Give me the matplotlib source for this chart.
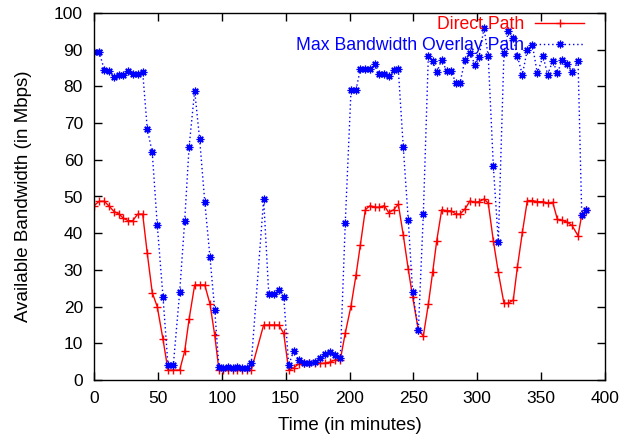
import matplotlib
matplotlib.use("Agg")
import matplotlib.pyplot as plt

# sample times (minutes); sampling is slightly irregular
minutes = [0.0, 4.1, 8.1, 12.0, 15.7, 19.3, 22.9, 26.8, 30.3, 34.2,
           38.1, 41.7, 45.6, 49.5, 54.0, 57.9, 62.1, 67.1, 71.0, 74.4,
           78.8, 82.7, 86.7, 90.8, 94.5, 97.8, 101.0, 104.9, 108.8, 112.2,
           115.9, 119.8, 123.1,
           132.8, 136.8, 140.7, 144.6, 148.5,
           152.4, 156.3, 160.2, 164.2, 168.1, 173.2, 177.1, 181.0, 184.9, 188.8,
           192.8,
           196.7, 201.2, 205.1, 208.5, 212.4, 216.1, 220.0, 223.3, 227.2, 230.7,
           234.6, 238.2, 242.1, 246.0, 249.4,
           253.9, 257.8, 261.7, 265.1, 268.3, 272.2, 276.1, 279.5, 283.4, 286.5,
           290.4, 294.3, 298.2,
           301.4, 305.3, 308.6, 312.6, 316.5, 320.9, 324.3, 328.2, 331.4, 335.3,
           339.2, 343.1, 347.0,
           351.5, 355.1, 359.1, 362.7, 366.6, 370.5, 374.2, 378.9, 381.8, 385.5]

direct = [47.5, 48.7, 48.7, 47.3, 45.9, 45.3, 44.1, 43.4, 43.4, 45.2,
          45.2, 34.5, 23.8, 20.0, 11.1, 2.7, 2.7, 2.7, 7.9, 16.5,
          25.9, 25.9, 25.9, 20.7, 12.2, 2.7, 2.7, 2.7, 2.7, 2.7,
          2.7, 2.7, 2.7,
          15.0, 15.0, 15.0, 15.0, 12.7,
          2.7, 3.3, 4.4, 4.6, 4.6, 4.6, 4.5, 4.6, 4.9, 5.5,
          5.5,
          12.8, 20.2, 28.6, 36.8, 46.4, 47.5, 47.1, 47.1, 47.5, 45.6,
          46.4, 47.9, 39.5, 30.2, 22.7,
          13.6, 12.0, 20.6, 29.4, 38.0, 46.4, 46.1, 46.1, 45.2, 45.2,
          46.6, 48.8, 48.4,
          48.6, 49.3, 48.2, 37.9, 29.3, 20.9, 20.9, 21.8, 30.7, 40.2,
          48.9, 48.9, 48.6,
          48.6, 48.2, 48.4, 43.8, 43.5, 43.0, 42.1, 39.3, 45.0, 46.2]

overlay = [89.3, 89.3, 84.5, 84.1, 82.5, 83.1, 83.1, 84.3, 83.5, 83.4,
           84.0, 68.4, 62.0, 42.3, 22.7, 4.1, 4.1, 24.1, 43.4, 63.4,
           78.8, 65.6, 48.6, 33.4, 19.1, 3.5, 3.4, 3.6, 3.3, 3.5,
           3.4, 3.4, 4.5,
           49.3, 23.4, 23.4, 24.5, 22.7,
           4.1, 7.9, 5.5, 4.6, 4.6, 4.8, 5.9, 7.0, 7.7, 6.9,
           5.9,
           42.9, 79.1, 79.1, 84.7, 84.7, 84.7, 86.1, 83.4, 83.4, 82.9,
           84.4, 84.7, 63.4, 43.6, 24.1,
           13.6, 45.2, 88.2, 86.8, 83.8, 87.3, 84.1, 84.1, 80.9, 80.9,
           87.3, 89.1, 85.9,
           88.0, 95.9, 88.2, 58.2, 37.7, 89.1, 95.0, 93.2, 88.3, 83.2,
           90.0, 91.4, 83.6,
           88.2, 83.2, 87.0, 83.6, 87.3, 86.2, 83.8, 86.8, 45.0, 46.2]

plt.rcParams['font.family'] = ['Liberation Sans', 'DejaVu Sans']
plt.rcParams['font.size'] = 12

fig = plt.figure(figsize=(6.36, 4.36), dpi=100)
ax = fig.add_axes([94 / 636, 1 - 380 / 436, 511 / 636, 367 / 436])

ax.plot(minutes, direct, color='#ff0000', lw=1, marker='+', ms=6, mew=1,
        label='Direct Path')
ax.plot(minutes, overlay, color='#0000ff', lw=1, ls=(0, (1, 2)),
        marker=(8, 2, 0), ms=5.5, mew=0.9, label='Max Bandwidth Overlay Path')

ax.set_xlim(0, 400)
ax.set_ylim(0, 100)
ax.set_xticks(range(0, 401, 50))
ax.set_yticks(range(0, 101, 10))
ax.tick_params(direction='in', top=True, right=True, length=6, width=1,
               labelsize=12.5, pad=8)
for s in ax.spines.values():
    s.set_linewidth(1)

ax.set_xlabel('Time (in minutes)', fontsize=13.5, labelpad=8)
ax.set_ylabel('Available Bandwidth (in Mbps)', fontsize=13.5, labelpad=16)

ax.legend(loc='upper right', bbox_to_anchor=(0.98, 1.02), frameon=False,
          markerfirst=False, labelcolor='linecolor', alignment='right',
          handlelength=2.8, handletextpad=0.6, labelspacing=0.2,
          borderaxespad=0.2, fontsize=12.7)

fig.savefig('out.png', dpi=100)
